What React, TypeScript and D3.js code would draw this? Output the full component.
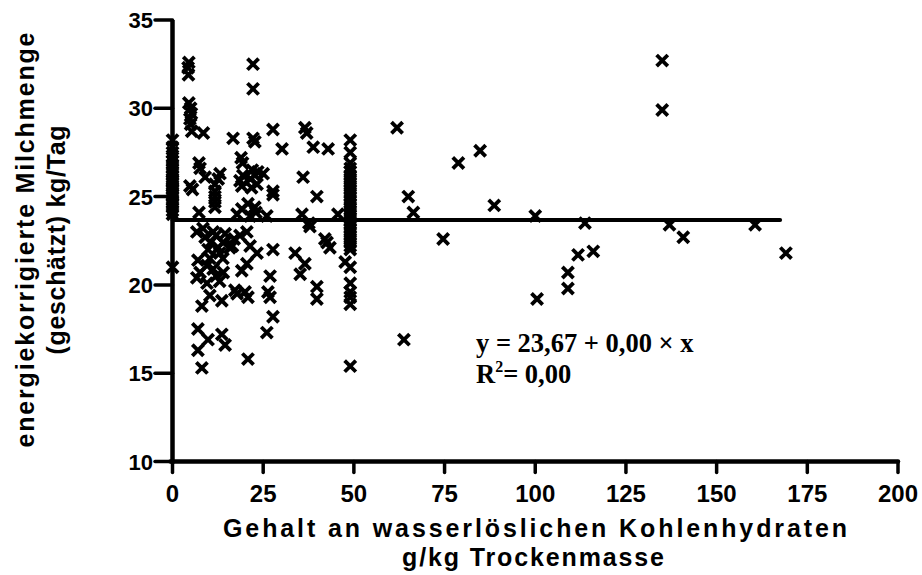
import React from "react";
import * as d3 from "d3";

// Ticks
const xTicks = [0, 25, 50, 75, 100, 125, 150, 175, 200];
const yTicks = [10, 15, 20, 25, 30, 35];

// Points at WSC = 0 g/kg
const wscZeroYields = [28.2, 27.8, 27.5, 27.2, 27.0, 26.8, 26.6, 26.4, 26.2, 26.0, 25.8, 25.6, 25.4, 25.2, 25.0, 24.8, 24.6, 24.4, 24.2, 24.0, 25.9, 25.1, 21.0];
// Points at WSC ≈ 49 g/kg
const wsc49Yields = [28.2, 27.5, 26.9, 26.6, 26.4, 26.2, 26.0, 25.8, 25.6, 25.4, 25.2, 25.0, 24.8, 24.6, 24.4, 24.2, 24.0, 23.8, 23.6, 23.4, 23.2, 23.0, 22.8, 22.6, 22.4, 22.2, 22.0, 21.0, 20.1, 19.6, 19.3, 18.9, 15.4];
// Other points [WSC, milk yield]
const otherPoints: [number, number][] = [
  [4.5, 32.6], [4.3, 32.3], [4.4, 31.9], [4.5, 30.3], [5.0, 30.0], [5.2, 29.7], [4.8, 29.4], [5.0, 29.1], [5.3, 28.7], [22.2, 32.5], [22.2, 31.1],
  [8.5, 28.6], [16.7, 28.3], [22.2, 28.3], [22.7, 28.1], [27.7, 28.8], [30.2, 27.7], [36.5, 28.9], [37.0, 28.6], [38.8, 27.8], [42.9, 27.7], [61.9, 28.9],
  [7.3, 26.9], [7.6, 26.6], [9.0, 26.1], [13.1, 26.3], [12.6, 26.0], [11.7, 25.7], [11.7, 25.3], [11.7, 25.0], [11.7, 24.7], [11.7, 24.4],
  [4.8, 25.6], [5.5, 25.4], [18.9, 27.2], [19.3, 26.9], [18.6, 25.9], [19.4, 26.2], [19.1, 25.6], [21.5, 26.0], [22.7, 26.2], [23.3, 25.7], [22.0, 26.5], [23.5, 26.4], [21.8, 25.5], [25.0, 26.3], [27.7, 25.3], [27.7, 25.1], [36.0, 26.1], [39.8, 25.0],
  [35.7, 24.0], [37.6, 23.5], [37.9, 23.3], [42.0, 22.6], [42.6, 22.4], [43.4, 22.1], [45.6, 24.0], [7.3, 24.1],
  [19.1, 24.3], [22.7, 24.4], [20.8, 24.6], [21.4, 23.9], [17.8, 24.0], [23.0, 24.1], [26.0, 23.9],
  [6.7, 23.0], [8.4, 23.2], [11.2, 23.0], [13.9, 22.4], [12.6, 22.1], [15.8, 22.1], [18.6, 22.8], [20.5, 23.0], [21.4, 22.2], [23.3, 21.8], [27.7, 22.0],
  [9.0, 22.7], [10.5, 22.4], [12.0, 22.8], [14.5, 22.9], [16.5, 22.2], [9.8, 22.0], [13.0, 21.8], [17.0, 22.6],
  [10.3, 21.5], [9.5, 21.1], [7.6, 20.7], [6.7, 20.4], [11.2, 20.9], [13.9, 21.5], [19.1, 20.8], [20.5, 21.2], [26.9, 20.5], [7.0, 21.4], [12.0, 20.5], [14.0, 20.7],
  [9.5, 20.1], [13.0, 20.2], [17.2, 19.7], [20.0, 19.6], [26.3, 19.6],
  [33.8, 21.8], [36.5, 21.2], [35.2, 20.6], [39.8, 19.9], [39.8, 19.2],
  [8.1, 18.8], [10.3, 19.4], [13.6, 19.1], [17.8, 19.5], [20.8, 19.3], [26.9, 19.3], [27.7, 18.2], [26.0, 17.3],
  [7.0, 17.5], [9.8, 16.9], [13.6, 17.2], [14.5, 16.6], [7.0, 16.3], [8.1, 15.3], [20.8, 15.8],
  [47.6, 21.3],
  [63.8, 16.9], [65.0, 25.0], [66.4, 24.1], [74.6, 22.6], [78.8, 26.9], [84.8, 27.6], [88.7, 24.5], [100.0, 23.9], [100.5, 19.2],
  [109.0, 20.7], [109.0, 19.8], [111.8, 21.7], [113.7, 23.5], [116.0, 21.9], [135.0, 32.7], [135.0, 29.9], [137.0, 23.4], [140.8, 22.7], [160.6, 23.4], [169.1, 21.8],
];

// Regression
const intercept = 23.67;
const slope = 0.0;
const fitRange = [0, 167.5];

const xTitle = "Gehalt an wasserlöslichen Kohlenhydraten";
const xTitle2 = "g/kg Trockenmasse";
const yTitle1 = "energiekorrigierte Milchmenge";
const yTitle2 = "(geschätzt) kg/Tag";

export default function App() {
  const W = 922, H = 575;
  const x = d3.scaleLinear().domain([0, 200]).range([172.5, 898]);
  const y = d3.scaleLinear().domain([10, 35]).range([461.5, 20]);

  const points: [number, number][] = [
    ...wscZeroYields.map((v) => [0, v] as [number, number]),
    ...wsc49Yields.map((v) => [49, v] as [number, number]),
    ...otherPoints,
  ];
  const s = 5.6;
  const line = d3.line<number>().x((d) => x(d)).y((d) => y(intercept + slope * d));

  const sans = "'Liberation Sans', Arial, sans-serif";
  const serif = "'Liberation Serif', 'Times New Roman', serif";

  return (
    <svg width={W} height={H} style={{ position: "absolute", left: 0, top: 0, background: "#fff" }}>
      {/* markers */}
      <g stroke="#000" strokeWidth={3.8} fill="none">
        {points.map(([px, py], i) => {
          const cx = x(px), cy = y(py);
          return (
            <path key={i} d={`M${cx - s},${cy - s}L${cx + s},${cy + s}M${cx - s},${cy + s}L${cx + s},${cy - s}`} />
          );
        })}
      </g>
      {/* regression line */}
      <path d={line(fitRange) || ""} stroke="#000" strokeWidth={4} fill="none" strokeLinecap="round" />
      {/* axes */}
      <g stroke="#000" strokeLinecap="round">
        <line x1={x(0)} x2={x(0)} y1={y(10) + 2} y2={y(35)} strokeWidth={4.5} strokeLinecap="butt" />
        <line x1={x(0) - 2} x2={x(200)} y1={y(10)} y2={y(10)} strokeWidth={4.5} />
        {yTicks.map((t) => (
          <line key={t} x1={155} x2={x(0)} y1={y(t)} y2={y(t)} strokeWidth={3.5} />
        ))}
        {xTicks.map((t) => (
          <line key={t} x1={x(t)} x2={x(t)} y1={y(10)} y2={y(10) + 11} strokeWidth={3.5} />
        ))}
      </g>
      <g fontFamily={sans} fontWeight="bold" fill="#000">
        {yTicks.map((t) => (
          <text key={t} x={153} y={y(t) + 8} fontSize={22} textAnchor="end">{t}</text>
        ))}
        {xTicks.map((t) => (
          <text key={t} x={x(t)} y={502} fontSize={24} textAnchor="middle">{t}</text>
        ))}
        <text x={535} y={537} fontSize={25} textAnchor="middle" textLength={624} lengthAdjust="spacing">{xTitle}</text>
        <text x={533} y={566} fontSize={25} textAnchor="middle" textLength={262} lengthAdjust="spacing">{xTitle2}</text>
        <text transform={`translate(34,240) rotate(-90)`} fontSize={25} textAnchor="middle" textLength={415} lengthAdjust="spacing">{yTitle1}</text>
        <text transform={`translate(65,240) rotate(-90)`} fontSize={25} textAnchor="middle" textLength={229} lengthAdjust="spacing">{yTitle2}</text>
      </g>
      <g fontFamily={serif} fontWeight="bold" fill="#000" fontSize={26.5}>
        <text x={476} y={352}>y = 23,67 + 0,00 × x</text>
        <text x={476} y={383}>R<tspan fontSize={16} dy={-11}>2</tspan><tspan dy={11}>= 0,00</tspan></text>
      </g>
    </svg>
  );
}
